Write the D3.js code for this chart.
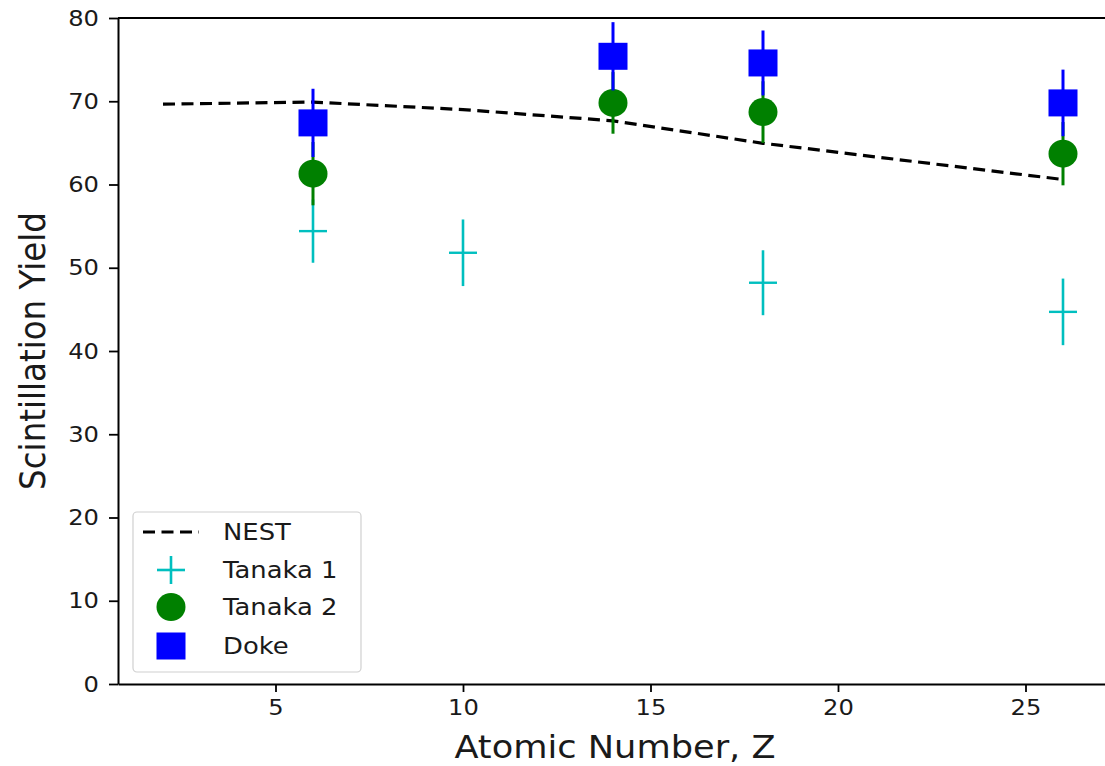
<!DOCTYPE html>
<html>
<head>
<meta charset="utf-8">
<script src="https://cdn.jsdelivr.net/npm/d3@7"></script>
<style>
  html, body { margin: 0; padding: 0; background: #fff; }
  svg { display: block; font-family: "DejaVu Sans", sans-serif; }
</style>
</head>
<body>
<svg id="chart" width="1105" height="766"></svg>
<script>
// ---- data ----
const nestZ = [2, 6, 10, 14, 18, 26];
const nestY = [69.65, 69.9, 69.0, 67.65, 64.95, 60.6];

const tanaka1Z = [6, 10, 18, 26];
const tanaka1Y = [54.4, 51.8, 48.2, 44.7];
const tanaka1Err = [3.8, 4.0, 3.9, 4.0];

const tanaka2Z = [6, 14, 18, 26];
const tanaka2Y = [61.3, 69.8, 68.7, 63.7];
const tanaka2Err = [3.8, 3.7, 3.7, 3.8];

const dokeZ = [6, 14, 18, 26];
const dokeY = [67.4, 75.4, 74.6, 69.8];
const dokeErr = [4.1, 4.1, 3.9, 4.0];

const xTicks = [5, 10, 15, 20, 25];
const yTicks = [0, 10, 20, 30, 40, 50, 60, 70, 80];

const legendLabels = ["NEST", "Tanaka 1", "Tanaka 2", "Doke"];

// ---- layout ----
const svg = d3.select("#chart");
const pL = 118, pR = 1108, pT = 18, pB = 684;
const SX = 1.1; // horizontal stretch of the text in the reference
const x = d3.scaleLinear().domain([0.8, 27.2]).range([pL, pR]);
const y = d3.scaleLinear().domain([0, 80]).range([pB, pT]);

const colBlue = "#0000ff", colGreen = "#008000", colCyan = "#00bfbf";
const textCol = "#1a1a1a";

svg.append("defs").append("clipPath").attr("id", "plotclip")
  .append("rect").attr("x", pL).attr("y", pT).attr("width", pR - pL).attr("height", pB - pT);

const plot = svg.append("g").attr("clip-path", "url(#plotclip)");

// NEST dashed line
const nestData = nestZ.map((z, i) => [z, nestY[i]]);
plot.append("path")
  .datum(nestData)
  .attr("d", d3.line().x(d => x(d[0])).y(d => y(d[1])))
  .attr("fill", "none").attr("stroke", "#000").attr("stroke-width", 3.2)
  .attr("stroke-dasharray", "12,6.5");

// Tanaka 1: plus markers with error bars
const t1 = tanaka1Z.map((z, i) => ({ z, v: tanaka1Y[i], e: tanaka1Err[i] }));
plot.selectAll(".t1err").data(t1).enter().append("line")
  .attr("x1", d => x(d.z)).attr("x2", d => x(d.z))
  .attr("y1", d => y(d.v - d.e)).attr("y2", d => y(d.v + d.e))
  .attr("stroke", colCyan).attr("stroke-width", 2.6);
plot.selectAll(".t1h").data(t1).enter().append("line")
  .attr("x1", d => x(d.z) - 14).attr("x2", d => x(d.z) + 14)
  .attr("y1", d => y(d.v)).attr("y2", d => y(d.v))
  .attr("stroke", colCyan).attr("stroke-width", 2.4);

// Tanaka 2: circles
const t2 = tanaka2Z.map((z, i) => ({ z, v: tanaka2Y[i], e: tanaka2Err[i] }));
plot.selectAll(".t2err").data(t2).enter().append("line")
  .attr("x1", d => x(d.z)).attr("x2", d => x(d.z))
  .attr("y1", d => y(d.v - d.e)).attr("y2", d => y(d.v + d.e))
  .attr("stroke", colGreen).attr("stroke-width", 3);
plot.selectAll(".t2c").data(t2).enter().append("ellipse")
  .attr("cx", d => x(d.z)).attr("cy", d => y(d.v))
  .attr("rx", 14.5).attr("ry", 14)
  .attr("fill", colGreen);

// Doke: squares
const dk = dokeZ.map((z, i) => ({ z, v: dokeY[i], e: dokeErr[i] }));
plot.selectAll(".dkerr").data(dk).enter().append("line")
  .attr("x1", d => x(d.z)).attr("x2", d => x(d.z))
  .attr("y1", d => y(d.v - d.e)).attr("y2", d => y(d.v + d.e))
  .attr("stroke", colBlue).attr("stroke-width", 3);
plot.selectAll(".dks").data(dk).enter().append("rect")
  .attr("x", d => x(d.z) - 14.5).attr("y", d => y(d.v) - 13.5)
  .attr("width", 29).attr("height", 27)
  .attr("fill", colBlue);

// ---- axes ----
const xAxis = svg.append("g").attr("transform", `translate(0,${pB})`)
  .call(d3.axisBottom(x).tickValues(xTicks).tickFormat(d3.format("d"))
    .tickSize(8).tickSizeOuter(0).tickPadding(7));
const yAxis = svg.append("g").attr("transform", `translate(${pL},0)`)
  .call(d3.axisLeft(y).tickValues(yTicks).tickFormat(d3.format("d"))
    .tickSize(9).tickSizeOuter(0).tickPadding(10));

[xAxis, yAxis].forEach(a => {
  a.select(".domain").attr("stroke", "#000").attr("stroke-width", 2);
  a.selectAll(".tick line").attr("stroke", "#000").attr("stroke-width", 1.8);
  a.selectAll(".tick text").attr("fill", textCol).style("font-size", "22px")
    .style("font-family", "'DejaVu Sans', sans-serif");
});
// stretch tick labels horizontally like the reference
yAxis.selectAll(".tick text").each(function () {
  const t = d3.select(this);
  const tx = +t.attr("x");
  t.attr("x", 0).attr("transform", `translate(${tx},0) scale(${SX},1)`);
});
xAxis.selectAll(".tick text").attr("transform", `scale(${SX},1)`);

// top spine
svg.append("line").attr("x1", pL).attr("x2", pR).attr("y1", pT).attr("y2", pT)
  .attr("stroke", "#000").attr("stroke-width", 2);

// axis labels
svg.append("text")
  .attr("transform", `translate(${(pL + pR) / 2 + 2},758) scale(${SX},1)`)
  .attr("text-anchor", "middle").style("font-size", "32px").attr("fill", textCol)
  .text("Atomic Number, Z");
svg.append("text")
  .attr("transform", `translate(45,${(pT + pB) / 2}) rotate(-90) scale(1,${SX})`)
  .attr("text-anchor", "middle").style("font-size", "32.5px").attr("fill", textCol)
  .text("Scintillation Yield");

// ---- legend ----
const lg = svg.append("g");
lg.append("rect").attr("x", 133).attr("y", 512).attr("width", 228).attr("height", 160)
  .attr("rx", 4).attr("fill", "#fff").attr("fill-opacity", 0.8)
  .attr("stroke", "#d0d0d0").attr("stroke-width", 1.2);
const rowY = [532, 570, 607, 646];
const hx = 171;
// NEST
lg.append("line").attr("x1", 143).attr("x2", 199).attr("y1", rowY[0]).attr("y2", rowY[0])
  .attr("stroke", "#000").attr("stroke-width", 3.2).attr("stroke-dasharray", "12,6.5");
// Tanaka 1
lg.append("line").attr("x1", hx - 14).attr("x2", hx + 14).attr("y1", rowY[1]).attr("y2", rowY[1])
  .attr("stroke", colCyan).attr("stroke-width", 2.6);
lg.append("line").attr("x1", hx).attr("x2", hx).attr("y1", rowY[1] - 14).attr("y2", rowY[1] + 14)
  .attr("stroke", colCyan).attr("stroke-width", 2.6);
// Tanaka 2
lg.append("ellipse").attr("cx", hx).attr("cy", rowY[2]).attr("rx", 14.5).attr("ry", 14).attr("fill", colGreen);
// Doke
lg.append("rect").attr("x", hx - 14.5).attr("y", rowY[3] - 13.5).attr("width", 29).attr("height", 27).attr("fill", colBlue);
lg.selectAll(".lt").data(legendLabels).enter().append("text")
  .attr("transform", (d, i) => `translate(223,${rowY[i]}) scale(${SX},1)`)
  .attr("dy", "0.36em")
  .style("font-size", "23.5px").attr("fill", textCol).text(d => d);
</script>
</body>
</html>
